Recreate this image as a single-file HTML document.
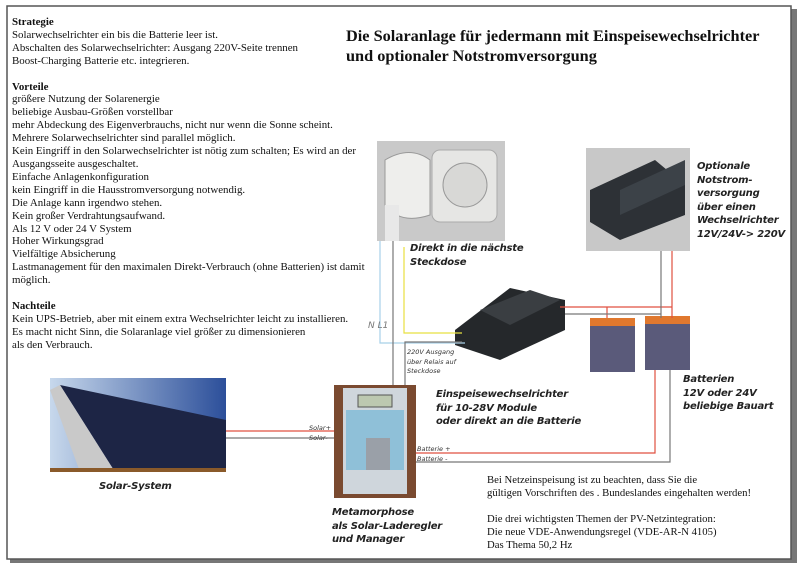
<!DOCTYPE html>
<html><head><meta charset="utf-8"><style>
body{margin:0;width:800px;height:569px;background:#fff;position:relative;overflow:hidden;font-family:"Liberation Serif",serif}
.t{position:absolute;font-size:10.9px;line-height:12.9px;color:#111;white-space:nowrap}
.lb{position:absolute;font-family:"DejaVu Sans","Liberation Sans",sans-serif;font-weight:bold;font-style:italic;font-size:10px;letter-spacing:-0.2px;line-height:13.5px;color:#222;white-space:nowrap}
.sm{position:absolute;font-family:"DejaVu Sans",sans-serif;font-style:italic;font-size:6.5px;line-height:9.5px;color:#333;white-space:nowrap}
</style></head><body>
<svg width="800" height="569" style="position:absolute;left:0;top:0">
<rect x="10" y="9" width="787" height="554" fill="#777"/>
<rect x="7" y="6" width="784" height="553" fill="#fff" stroke="#555" stroke-width="1.5"/>
<defs>
<linearGradient id="sky" x1="0" y1="0" x2="1" y2="0"><stop offset="0" stop-color="#c7d8ec"/><stop offset="1" stop-color="#2c4f9a"/></linearGradient>
</defs>
<rect x="50" y="378" width="176" height="94" fill="url(#sky)"/>
<polygon points="60,385 226,420 226,472 115,472" fill="#1d2545"/>
<polygon points="50,390 60,385 115,472 80,472" fill="#c9c9c9"/>
<rect x="50" y="468" width="176" height="4" fill="#8a5a2a"/>
<rect x="377" y="141" width="128" height="100" fill="#c9c9c9"/>
<rect x="432" y="150" width="65" height="72" rx="8" fill="#e6e6e4" stroke="#aaa"/>
<circle cx="465" cy="185" r="22" fill="#d8d8d6" stroke="#999"/>
<path d="M385 160 Q410 145 430 160 L430 215 Q400 225 385 205 Z" fill="#eeeeec" stroke="#999"/>
<rect x="385" y="205" width="14" height="36" fill="#e8e8e8"/>
<rect x="586" y="148" width="104" height="103" fill="#c8c8c8"/>
<polygon points="590,190 655,160 685,185 685,215 620,240 590,222" fill="#2d3136"/>
<polygon points="620,190 685,160 685,185 620,215" fill="#3c4248"/>
<polygon points="455,330 510,288 565,300 565,330 500,360 455,345" fill="#25282b"/>
<polygon points="480,310 530,290 560,300 510,325" fill="#3a3e42"/>
<rect x="590" y="320" width="45" height="52" fill="#5a5a7a"/>
<rect x="590" y="318" width="45" height="8" fill="#e0782e"/>
<rect x="645" y="318" width="45" height="52" fill="#5a5a7a"/>
<rect x="645" y="316" width="45" height="8" fill="#e0782e"/>
<rect x="334" y="385" width="82" height="113" fill="#7a4a30"/>
<rect x="343" y="388" width="64" height="106" fill="#cfd6dc"/>
<rect x="346" y="410" width="58" height="60" fill="#8fc0d8"/>
<rect x="358" y="395" width="34" height="12" fill="#bcc8b0" stroke="#555"/>
<rect x="366" y="438" width="24" height="32" fill="#9aa0a8"/>
<g fill="none" stroke-width="1.2">
<path d="M380 241 V343 H465" stroke="#a8d0e8"/>
<path d="M393 241 V385" stroke="#777"/>
<path d="M404 247 V333 H462" stroke="#e8e040"/>
<path d="M405 385 V342 H462" stroke="#777"/>
<path d="M560 307 H672 M607 307 V318 M672 251 V318" stroke="#e05040"/>
<path d="M565 314 H661 M661 251 V318" stroke="#777"/>
<path d="M416 453 H655 V370" stroke="#e05040"/>
<path d="M416 462 H670 V370" stroke="#777"/>
<path d="M226 431 H334" stroke="#e05040"/>
<path d="M226 438 H334" stroke="#777"/>
</g>
</svg>
<div class="t" style="left:12px;top:16px"><b>Strategie</b><br>Solarwechselrichter ein bis die Batterie leer ist.<br>Abschalten des Solarwechselrichter: Ausgang 220V-Seite trennen<br>Boost-Charging Batterie etc. integrieren.<br><br><b>Vorteile</b><br>größere Nutzung der Solarenergie<br>beliebige Ausbau-Größen vorstellbar<br>mehr Abdeckung des Eigenverbrauchs, nicht nur wenn die Sonne scheint.<br>Mehrere Solarwechselrichter sind parallel möglich.<br>Kein Eingriff in den Solarwechselrichter ist nötig zum schalten; Es wird an der<br>Ausgangsseite ausgeschaltet.<br>Einfache Anlagenkonfiguration<br>kein Eingriff in die Hausstromversorgung notwendig.<br>Die Anlage kann irgendwo stehen.<br>Kein großer Verdrahtungsaufwand.<br>Als 12 V oder 24 V System<br>Hoher Wirkungsgrad<br>Vielfältige Absicherung<br>Lastmanagement für den maximalen Direkt-Verbrauch (ohne Batterien) ist damit<br>möglich.<br><br><b>Nachteile</b><br>Kein UPS-Betrieb, aber mit einem extra Wechselrichter leicht zu installieren.<br>Es macht nicht Sinn, die Solaranlage viel größer zu dimensionieren<br>als den Verbrauch.</div>
<div class="t" style="left:346px;top:26px;font-size:16.3px;line-height:20px;font-weight:bold">Die Solaranlage für jedermann mit Einspeisewechselrichter<br>und optionaler Notstromversorgung</div>
<div class="lb" style="left:697px;top:160px">Optionale<br>Notstrom-<br>versorgung<br>über einen<br>Wechselrichter<br>12V/24V-&gt; 220V</div>
<div class="lb" style="left:410px;top:242px">Direkt in die nächste<br>Steckdose</div>
<div class="lb" style="left:436px;top:388px">Einspeisewechselrichter<br>für 10-28V Module<br>oder direkt an die Batterie</div>
<div class="lb" style="left:683px;top:373px">Batterien<br>12V oder 24V<br>beliebige Bauart</div>
<div class="lb" style="left:99px;top:480px">Solar-System</div>
<div class="lb" style="left:332px;top:506px">Metamorphose<br>als Solar-Laderegler<br>und Manager</div>
<div class="sm" style="left:407px;top:348px">220V Ausgang<br>über Relais auf<br>Steckdose</div>
<div class="sm" style="left:309px;top:424px">Solar+<br>Solar-</div>
<div class="sm" style="left:417px;top:445px">Batterie +<br>Batterie -</div>
<div class="sm" style="left:368px;top:322px;font-size:9px;font-style:italic;color:#777">N L1</div>
<div class="t" style="left:487px;top:474px;font-size:10.7px">Bei Netzeinspeisung ist zu beachten, dass Sie die<br>gültigen Vorschriften des . Bundeslandes eingehalten werden!<br><br>Die drei wichtigsten Themen der PV-Netzintegration:<br>Die neue VDE-Anwendungsregel (VDE-AR-N 4105)<br>Das Thema 50,2 Hz</div>
</body></html>
